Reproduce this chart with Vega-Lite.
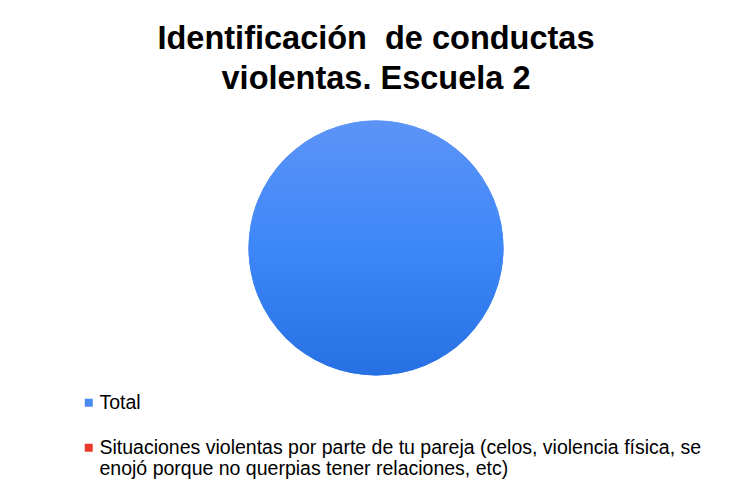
{
  "$schema": "https://vega.github.io/schema/vega-lite/v6.json",
  "width": 752,
  "height": 496,
  "autosize": "none",
  "padding": 0,
  "background": "white",
  "title": {
    "text": ["Identificación\u00a0 de conductas", "violentas. Escuela 2"],
    "fontSize": 32.5,
    "fontWeight": "bold",
    "font": "Liberation Sans",
    "color": "#000000",
    "anchor": "middle",
    "lineHeight": 40,
    "offset": -95
  },
  "data": {
    "values": [
      {"Categoria": "Total", "Valor": 1},
      {"Categoria": "Situaciones violentas por parte de tu pareja (celos, violencia física, se enojó porque no querpias tener relaciones, etc)", "Valor": 0}
    ]
  },
  "layer": [
    {
      "mark": {"type": "arc", "outerRadius": 127.5},
      "encoding": {
        "theta": {"field": "Valor", "type": "quantitative", "stack": true},
        "color": {
          "field": "Categoria",
          "type": "nominal",
          "sort": null,
          "scale": {
            "domain": ["Total", "Situaciones violentas por parte de tu pareja (celos, violencia física, se enojó porque no querpias tener relaciones, etc)"],
            "range": ["#4A88F2", "#E8392F"]
          },
          "legend": {
            "orient": "none",
            "legendX": 79,
            "legendY": 393,
            "title": null,
            "symbolType": "square",
            "symbolSize": 64,
            "symbolStrokeWidth": 0,
            "labelFont": "Liberation Sans",
            "labelFontSize": 19.5,
            "labelColor": "#000000",
            "labelLimit": 700,
            "labelOffset": 1,
            "rowPadding": 24,
            "labelExpr": "datum.label == 'Total' ? 'Total' : ['Situaciones violentas por parte de tu pareja (celos, violencia física, se', 'enojó porque no querpias tener relaciones, etc)']"
          }
        }
      }
    },
    {
      "transform": [{"filter": "datum.Valor > 0"}],
      "mark": {
        "type": "arc",
        "outerRadius": 127.5,
        "color": {
          "gradient": "linear",
          "x1": 0, "y1": 0, "x2": 0, "y2": 1,
          "stops": [
            {"offset": 0, "color": "#5C94F7"},
            {"offset": 0.5, "color": "#3D87F8"},
            {"offset": 1, "color": "#2670E4"}
          ]
        }
      },
      "encoding": {
        "theta": {"field": "Valor", "type": "quantitative"}
      }
    }
  ],
  "config": {
    "view": {"stroke": "#D9D9D9", "strokeWidth": 2}
  }
}
